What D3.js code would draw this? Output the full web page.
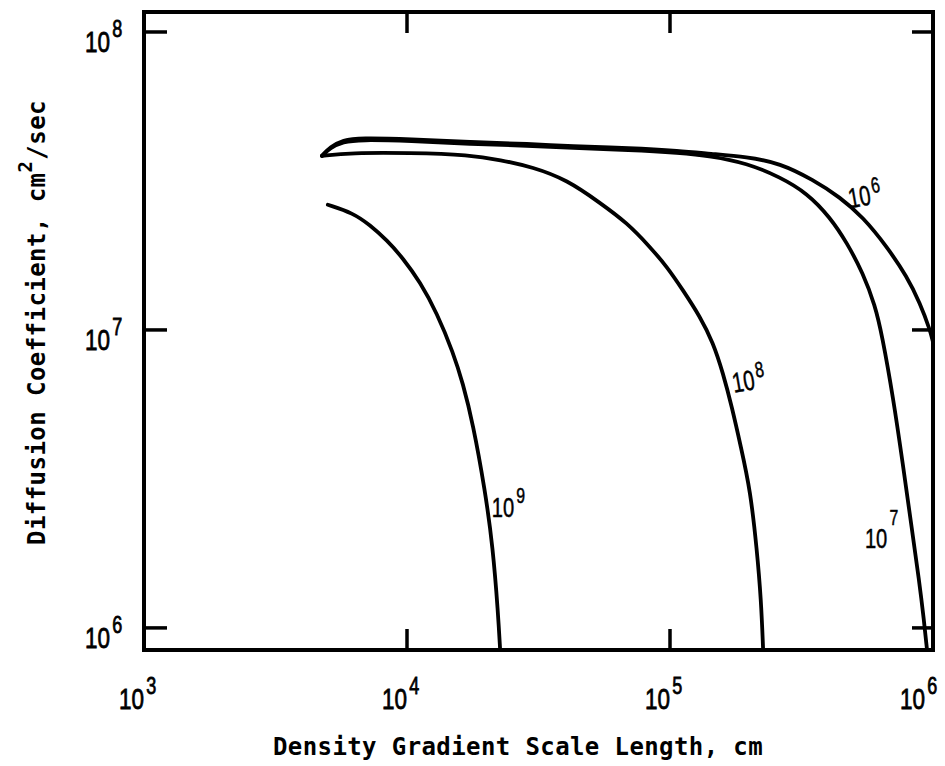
<!DOCTYPE html>
<html>
<head>
<meta charset="utf-8">
<script src="https://cdn.jsdelivr.net/npm/d3@7"></script>
<style>
  body { margin: 0; background: #fff; }
  svg { display: block; }
</style>
</head>
<body>
<svg id="chart" width="945" height="766"></svg>
<script>
// Diffusion coefficient (cm^2/sec) versus density gradient scale length (cm),
// one curve per plasma density (exponent of 10).
const densityExponents = ["9", "8", "7", "6"];

const length9 = [5.0e3, 6.23e3, 7.23e3, 8.39e3, 9.66e3, 1.12e4, 1.30e4, 1.50e4, 1.63e4,
                 1.78e4, 1.98e4, 2.12e4, 2.22e4, 2.26e4];
const diff9   = [2.63e7, 2.47e7, 2.25e7, 2.00e7, 1.74e7, 1.45e7, 1.14e7, 8.37e6, 6.64e6,
                 4.87e6, 2.90e6, 1.87e6, 1.12e6, 8.44e5];

const length8 = [4.75e3, 6.07e3, 1.027e4, 1.736e4, 2.26e4, 3.01e4, 4.06e4, 5.42e4, 6.86e4,
                 8.39e4, 9.74e4, 1.12e5, 1.30e5, 1.46e5, 1.59e5, 1.72e5, 1.86e5, 2.02e5,
                 2.14e5, 2.22e5, 2.26e5];
const diff8   = [3.84e7, 3.93e7, 3.93e7, 3.87e7, 3.72e7, 3.52e7, 3.19e7, 2.67e7, 2.29e7,
                 1.90e7, 1.63e7, 1.36e7, 1.11e7, 9.05e6, 7.17e6, 5.51e6, 4.05e6, 2.90e6,
                 1.83e6, 1.24e6, 8.44e5];

const length7 = [4.75e3, 5.10e3, 5.71e3, 6.63e3, 1.027e4, 1.736e4, 2.94e4, 4.17e4, 7.05e4,
                 1.09e5, 1.42e5, 1.96e5, 2.62e5, 3.32e5, 4.06e5, 4.71e5, 5.42e5, 6.02e5,
                 6.40e5, 7.05e5, 7.69e5, 8.32e5, 8.85e5, 9.24e5, 9.49e5];
const diff7   = [3.84e7, 4.08e7, 4.28e7, 4.35e7, 4.31e7, 4.21e7, 4.15e7, 4.08e7, 4.02e7,
                 3.93e7, 3.84e7, 3.63e7, 3.26e7, 2.88e7, 2.39e7, 1.96e7, 1.55e7, 1.21e7,
                 9.62e6, 5.96e6, 3.52e6, 2.13e6, 1.45e6, 1.06e6, 8.44e5];

const length6 = [4.75e3, 5.10e3, 5.71e3, 6.63e3, 1.027e4, 1.736e4, 2.94e4, 4.17e4, 7.05e4,
                 1.09e5, 1.42e5, 1.96e5, 2.62e5, 3.50e5, 4.43e5, 5.42e5, 6.69e5, 7.96e5,
                 8.93e5, 9.74e5, 1.0e6];
const diff6   = [3.84e7, 4.11e7, 4.34e7, 4.41e7, 4.37e7, 4.27e7, 4.21e7, 4.14e7, 4.08e7,
                 3.99e7, 3.90e7, 3.81e7, 3.63e7, 3.19e7, 2.79e7, 2.39e7, 1.90e7, 1.51e7,
                 1.23e7, 1.00e7, 9.11e6];

const xTickValues = [1e3, 1e4, 1e5, 1e6];
const xTickExps   = ["3", "4", "5", "6"];
const yTickValues = [1e6, 1e7, 1e8];
const yTickExps   = ["6", "7", "8"];

const xTitle = "Density Gradient Scale Length, cm";
const yTitleMain = "Diffusion Coefficient, cm";
const yTitleSup = "2";
const yTitleEnd = "/sec";

// ---- drawing ----
const svg = d3.select("#chart");
const x = d3.scaleLog().domain([1e3, 1e6]).range([144, 933]);
const y = d3.scaleLog().domain([8.43e5, 1.167e8]).range([650, 12]);

const ink = "#000";
const numFont = "'Liberation Sans', Arial, sans-serif";
const titleFont = "'DejaVu Sans Mono', monospace";

const curves = [
  { exp: densityExponents[0], L: length9, D: diff9 },
  { exp: densityExponents[1], L: length8, D: diff8 },
  { exp: densityExponents[2], L: length7, D: diff7 },
  { exp: densityExponents[3], L: length6, D: diff6 }
];

const line = d3.line()
  .x(d => x(d[0]))
  .y(d => y(d[1]))
  .curve(d3.curveBasis);

svg.append("g")
  .selectAll("path")
  .data(curves)
  .join("path")
  .attr("d", c => line(c.L.map((v, i) => [v, c.D[i]])))
  .attr("fill", "none")
  .attr("stroke", ink)
  .attr("stroke-width", 3.8)
  .attr("stroke-linejoin", "round")
  .attr("stroke-linecap", "round");

// frame
const [x0, x1] = x.range();
const [y0, y1] = y.range();
svg.append("rect")
  .attr("x", x0).attr("y", y1)
  .attr("width", x1 - x0).attr("height", y0 - y1)
  .attr("fill", "none").attr("stroke", ink).attr("stroke-width", 4);

// inward ticks on all four sides (interior decades on x, all decades on y)
const tickLen = 21;
const xInner = xTickValues.slice(1, -1);
const tg = svg.append("g").attr("stroke", ink).attr("stroke-width", 3.5);
tg.selectAll(".xb").data(xInner).join("line")
  .attr("x1", d => x(d)).attr("x2", d => x(d))
  .attr("y1", y0).attr("y2", y0 - tickLen);
tg.selectAll(".xt").data(xInner).join("line")
  .attr("x1", d => x(d)).attr("x2", d => x(d))
  .attr("y1", y1).attr("y2", y1 + tickLen);
tg.selectAll(".yl").data(yTickValues).join("line")
  .attr("x1", x0).attr("x2", x0 + tickLen + 2)
  .attr("y1", d => y(d)).attr("y2", d => y(d));
tg.selectAll(".yr").data(yTickValues).join("line")
  .attr("x1", x1).attr("x2", x1 - tickLen)
  .attr("y1", d => y(d)).attr("y2", d => y(d));

// power-of-ten label: narrow "10" with a raised exponent
function powerLabel(g, px, py, exp, opts = {}) {
  const size = opts.size || 30;
  const supSize = opts.supSize || 24;
  const sx = opts.sx || 0.75;
  const lift = opts.lift || 16;
  const grp = g.append("g")
    .attr("transform", `translate(${px},${py}) rotate(${opts.rotate || 0}) scale(${sx},1)`)
    .attr("font-family", numFont).attr("fill", ink)
    .attr("stroke", ink).attr("stroke-width", opts.weight || 0.8);
  grp.append("text")
    .attr("x", 0).attr("y", 0)
    .attr("font-size", size)
    .text("10");
  grp.append("text")
    .attr("x", size * 1.112 + 3).attr("y", -lift)
    .attr("font-size", supSize)
    .text(exp);
}

const labels = svg.append("g");
xTickValues.forEach((v, i) =>
  powerLabel(labels, Math.min(x(v) - 25, 900), 709, xTickExps[i], { lift: 15 }));
yTickValues.forEach((v, i) =>
  powerLabel(labels, 85, y(v) + 20, yTickExps[i], { lift: 15 }));

// curve labels
const small = { size: 28, supSize: 22, sx: 0.72, weight: 0.5 };
powerLabel(labels, x(2.10e4), y(2.36e6), curves[0].exp, { ...small, lift: 14 });
powerLabel(labels, x(1.75e5), y(6.15e6), curves[1].exp, { ...small, lift: 11, rotate: -10 });
powerLabel(labels, x(5.51e5), y(1.86e6), curves[2].exp, { ...small, lift: 23 });
powerLabel(labels, x(4.83e5), y(2.56e7), curves[3].exp, { ...small, lift: 11, rotate: -10 });

// axis titles
svg.append("text")
  .attr("x", 273).attr("y", 755)
  .attr("font-family", titleFont).attr("font-size", 24).attr("font-weight", "bold")
  .attr("letter-spacing", 0.4).attr("fill", ink)
  .text(xTitle);

const yt = svg.append("text")
  .attr("transform", "translate(45,545) rotate(-90)")
  .attr("font-family", titleFont).attr("font-size", 24).attr("font-weight", "bold")
  .attr("letter-spacing", 0.45).attr("fill", ink);
yt.append("tspan").text(yTitleMain);
yt.append("tspan").attr("dx", 0).attr("dy", -13).attr("font-size", 19).text(yTitleSup);
yt.append("tspan").attr("dx", 1).attr("dy", 13).text(yTitleEnd);
</script>
</body>
</html>
